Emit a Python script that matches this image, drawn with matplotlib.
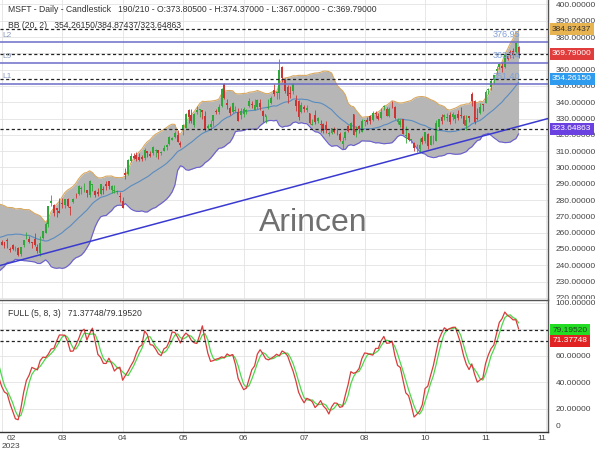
import numpy as np
import pandas as pd
import matplotlib
matplotlib.use("Agg")
import matplotlib.pyplot as plt
from matplotlib.ticker import FuncFormatter
from matplotlib.transforms import Bbox, TransformedBbox

plt.rcParams['font.family'] = ['Liberation Sans', 'DejaVu Sans']

# MSFT daily bars, 20 Jan 2023 -> 17 Nov 2023 (the first 21 bars only feed the indicators)
n_hidden = 21

opens = [
    232.0, 241.1, 242.5, 234.5, 243.7, 248.9, 244.5, 243.5,
    248.0, 258.8, 259.5, 257.4, 260.5, 273.2, 273.8, 261.5, 267.6, 272.7, 268.3, 264.0, 259.4,
    254.5, 254.1, 255.6, 249.9, 252.5, 249.1,
    250.8, 246.6, 252.2, 256.4, 256.3, 254.0, 255.8, 251.1, 247.4, 256.8, 259.9, 265.2, 278.3, 276.9, 274.9, 273.4, 277.9, 277.2, 280.5, 275.8, 278.6, 284.2, 283.7,
    286.5, 287.2, 285.9, 283.2, 289.2, 285.8, 284.8, 283.6, 287.0, 289.9, 291.6, 285.9, 285.3, 285.0, 282.1, 279.5, 296.7, 295.9, 304.0,
    306.9, 307.8, 306.6, 306.2, 305.7, 310.1, 308.0, 308.6, 310.1, 310.6, 309.1, 309.8, 312.3, 314.5, 316.7, 318.6, 320.0, 314.7, 323.2, 324.0, 335.2, 332.3,
    325.9, 334.2, 335.2, 335.3, 331.6, 323.9, 324.9, 328.6, 334.5, 334.3, 337.5, 351.3, 339.3, 336.5, 334.1, 334.4, 333.7, 331.9, 332.7, 334.7, 337.8,
    339.2, 335.1, 337.3, 339.3, 334.6, 331.1, 336.6, 339.6, 347.6, 345.7, 345.8, 361.8, 353.6, 349.2, 345.9, 347.1, 341.4, 340.5, 333.7, 336.9,
    335.2, 333.6, 326.0, 331.9, 328.4, 326.9, 326.5, 326.0, 320.3, 321.4, 323.0, 320.8, 320.5, 314.5, 317.9, 325.5, 323.8, 332.9, 321.5, 325.7, 321.9, 328.7, 329.2,
    331.3, 329.0, 333.4, 331.3, 330.1, 337.2, 335.8, 331.3, 339.2, 336.9, 327.8, 326.2, 329.5, 319.3, 321.3, 316.6, 315.1, 312.3, 311.0, 317.8,
    316.3, 320.8, 314.0, 319.1, 316.5, 324.8, 331.0, 331.2, 330.6, 332.4, 331.1, 329.6, 332.5, 332.0, 331.7, 325.5, 331.3, 345.0, 340.5, 330.4, 333.4, 338.9,
    339.8, 347.2, 349.6, 353.5, 359.4, 361.7, 362.3, 361.5, 368.2, 371.0, 371.3, 371.0, 373.805,
]
highs = [
    240.5, 245.2, 243.9, 243.3, 248.3, 249.8, 245.6, 247.9,
    255.2, 264.7, 264.2, 258.3, 268.8, 276.8, 273.9, 264.1, 274.6, 274.9, 270.7, 266.7, 260.1,
    255.5, 254.3, 256.8, 251.0, 252.8, 251.5,
    250.9, 251.4, 255.6, 260.1, 257.7, 254.5, 259.6, 252.8, 257.9, 261.1, 266.5, 276.6, 283.3, 277.5, 275.0, 281.0, 281.1, 280.6, 281.5, 276.1, 281.1, 284.5, 289.0,
    288.3, 290.5, 286.2, 292.1, 289.6, 285.9, 287.2, 289.9, 288.5, 291.6, 291.8, 289.1, 289.0, 286.2, 284.9, 281.6, 299.6, 305.2, 308.9,
    308.6, 309.2, 308.6, 307.8, 311.9, 310.2, 310.0, 313.0, 311.1, 310.7, 309.9, 313.7, 314.4, 319.0, 318.8, 322.6, 322.7, 316.5, 326.9, 333.4, 335.7, 335.9,
    333.5, 337.5, 335.9, 335.4, 334.5, 326.6, 329.0, 332.1, 336.0, 339.0, 349.0, 351.5, 342.1, 337.7, 340.1, 337.5, 336.2, 336.2, 337.0, 336.1, 342.7,
    340.9, 341.7, 342.0, 341.8, 335.2, 332.4, 341.7, 343.7, 351.4, 346.9, 366.8, 362.5, 355.0, 350.3, 349.8, 351.9, 344.7, 341.3, 340.0, 338.5,
    338.5, 333.6, 329.9, 335.1, 331.1, 328.8, 327.1, 328.3, 322.4, 324.3, 325.0, 324.4, 321.9, 318.4, 322.4, 326.1, 328.0, 332.9, 325.4, 326.1, 329.8, 328.8, 330.9,
    332.0, 334.9, 334.5, 333.1, 336.2, 338.4, 336.8, 336.9, 340.9, 337.4, 330.4, 329.4, 329.6, 325.4, 321.4, 317.7, 315.9, 314.3, 318.0, 319.5,
    322.0, 321.4, 320.0, 320.0, 329.2, 330.0, 332.8, 332.8, 333.6, 333.8, 333.8, 333.0, 335.5, 336.9, 331.9, 332.0, 331.8, 346.2, 341.6, 336.7, 339.4, 339.0,
    347.4, 348.8, 354.4, 357.0, 362.5, 363.9, 364.8, 370.1, 368.5, 372.0, 373.1, 376.4, 374.37,
]
lows = [
    230.6, 239.0, 240.4, 230.9, 242.0, 246.8, 242.2, 242.9,
    245.5, 257.3, 257.1, 254.8, 260.1, 266.2, 261.9, 260.7, 264.7, 269.1, 266.5, 261.9, 256.9,
    252.3, 250.3, 250.5, 248.1, 249.4, 248.7,
    245.8, 245.6, 251.4, 255.9, 253.4, 250.8, 251.6, 247.6, 245.5, 255.9, 259.5, 263.3, 276.3, 269.9, 269.5, 272.2, 275.2, 275.3, 275.5, 270.9, 278.4, 281.5, 283.2,
    283.9, 285.2, 281.9, 282.0, 285.7, 281.6, 282.6, 283.2, 283.7, 286.2, 287.0, 284.5, 284.5, 283.4, 278.7, 275.4, 292.8, 295.3, 303.3,
    305.2, 303.9, 304.1, 303.9, 304.3, 306.1, 306.1, 307.7, 306.3, 305.3, 307.6, 309.8, 310.7, 313.7, 316.6, 318.0, 315.3, 312.6, 320.0, 323.9, 327.3, 327.3,
    324.7, 332.6, 330.7, 330.0, 322.5, 323.3, 322.9, 325.2, 332.6, 333.0, 337.2, 341.9, 335.9, 332.1, 333.3, 333.8, 328.3, 329.8, 330.9, 332.6, 337.2,
    336.6, 335.0, 335.9, 335.3, 327.6, 327.5, 335.7, 339.0, 344.0, 342.2, 342.2, 352.4, 345.7, 339.8, 342.5, 345.1, 334.5, 329.1, 333.6, 333.7,
    333.7, 326.4, 325.9, 326.6, 327.5, 321.9, 321.1, 321.2, 319.2, 320.3, 321.1, 320.1, 316.1, 311.6, 317.0, 321.5, 323.0, 319.8, 318.8, 321.4, 321.7, 325.2, 326.8,
    326.8, 328.7, 330.2, 329.0, 329.5, 335.0, 331.5, 331.2, 336.6, 329.7, 326.4, 324.5, 320.5, 315.0, 316.0, 315.0, 310.0, 309.5, 308.9, 314.3,
    315.0, 311.2, 314.0, 314.6, 316.3, 323.2, 326.4, 329.1, 328.6, 326.4, 328.9, 327.0, 329.3, 330.4, 326.0, 322.9, 327.6, 337.6, 326.9, 328.9, 332.5, 334.7,
    339.7, 344.8, 347.3, 351.4, 357.6, 360.6, 358.6, 361.1, 365.9, 367.4, 367.0, 370.2, 367.0,
]
closes = [
    240.2, 242.6, 242.0, 240.6, 248.0, 248.2, 242.7, 247.8,
    252.8, 264.6, 258.4, 256.8, 267.6, 266.7, 263.6, 263.1, 271.3, 272.2, 269.3, 262.2, 258.1,
    252.7, 251.5, 254.8, 249.2, 250.2, 249.4,
    246.3, 251.1, 255.3, 256.9, 254.2, 253.7, 252.3, 248.6, 253.9, 260.8, 265.4, 276.2, 279.4, 272.2, 273.8, 272.3, 277.7, 280.6, 276.4, 275.2, 280.5, 284.1, 288.3,
    287.2, 287.2, 284.3, 291.6, 289.4, 282.8, 283.5, 289.8, 286.1, 288.8, 288.4, 288.5, 286.1, 285.8, 281.8, 275.4, 295.4, 304.8, 307.3,
    305.6, 305.4, 304.4, 305.4, 310.7, 308.7, 307.0, 312.3, 310.1, 309.0, 309.5, 311.7, 314.0, 318.5, 318.3, 321.2, 315.3, 313.9, 325.9, 332.9, 331.2, 328.4,
    332.6, 335.4, 335.9, 333.7, 323.4, 325.3, 326.8, 331.9, 334.3, 337.3, 348.1, 342.3, 338.1, 333.6, 339.7, 335.0, 328.6, 334.6, 335.9, 335.1, 340.5,
    338.0, 338.2, 341.3, 337.2, 331.8, 332.5, 337.2, 342.7, 345.2, 345.7, 359.5, 355.1, 346.9, 343.8, 345.1, 351.0, 337.8, 330.7, 338.4, 335.9,
    336.3, 327.5, 326.7, 327.8, 330.1, 326.1, 322.2, 322.9, 321.0, 324.0, 321.9, 320.4, 316.9, 316.5, 321.9, 322.5, 327.0, 320.0, 323.0, 323.7, 328.4, 328.8, 327.8,
    328.7, 333.6, 332.9, 329.9, 334.3, 337.9, 331.8, 336.1, 338.7, 330.2, 329.1, 328.7, 320.8, 319.5, 317.0, 317.5, 312.1, 312.8, 313.6, 315.8,
    321.8, 313.4, 319.0, 319.4, 327.3, 329.8, 328.4, 332.4, 331.2, 327.7, 332.6, 332.1, 330.1, 331.3, 326.7, 329.3, 330.5, 340.7, 327.9, 329.8, 337.3, 338.1,
    346.1, 348.3, 352.8, 356.5, 360.5, 363.2, 360.7, 369.7, 366.7, 370.3, 369.7, 376.2, 369.79,
]

# x axis: one tick every 22 bars, labelled with the month
tick_bars = [0, 22, 44, 66, 88, 110, 132, 154, 176, 198]
tick_labels = ["02\n2023", "03", "04", "05", "06", "07", "08", "10", "11", "11"]

# levels drawn on the chart
levels = {"L2": 376.95, "L9": 363.94, "L1": 351.40}
bb_now = [354.26150, 384.87437, 323.64863]   # mid / upper / lower
last_close = 369.79
stoch_now = [71.37748, 79.19520]             # %K / %D
trend_bars = [10, 151]
trend_prices = [244.6, 308.4]

# indicators: BB(20, 2) and full stochastic (5, 8, 3)
c_s = pd.Series(closes)
bb_mid = c_s.rolling(20).mean()
bb_sd = c_s.rolling(20).std(ddof=0)
bb_up = bb_mid + 2 * bb_sd
bb_lo = bb_mid - 2 * bb_sd

hh = pd.Series(highs).rolling(5).max()
ll = pd.Series(lows).rolling(5).min()
fast_k = 100 * (c_s - ll) / (hh - ll)
full_k = fast_k.rolling(8).mean()
full_d = full_k.rolling(3).mean()

x = np.arange(len(closes)) - n_hidden
o = np.array(opens); h = np.array(highs); l = np.array(lows); c = np.array(closes)

fig = plt.figure(figsize=(6, 4.5), dpi=100)
ax1 = fig.add_axes([0, 0.3356, 0.9133, 0.6644])
ax2 = fig.add_axes([0, 0.04, 0.9133, 0.2933])
xlim = (-0.6, 198.7)


def fmt_hiding(hidden):
    # labels that sit under a value tag are not shown on the reference
    return FuncFormatter(lambda v, pos: "" if round(v) in hidden else f"{v:.5f}")


grid_kw = dict(color='#e3e3e3', lw=0.6)
for ax in (ax1, ax2):
    ax.set_xlim(*xlim)
    ax.set_xticks(tick_bars)
    ax.yaxis.tick_right()
    ax.tick_params(axis='y', length=0, pad=5.5, labelsize=6, labelcolor='#444')
    ax.tick_params(axis='x', length=0, pad=2, labelsize=6, labelcolor='#444')
    ax.grid(True, **grid_kw)
    ax.set_axisbelow(True)
    ax.spines['left'].set_visible(False)
    for s in ('right', 'bottom', 'top'):
        ax.spines[s].set_color('#555')
        ax.spines[s].set_linewidth(1.0)

# ---- upper panel: candles + bollinger
ax1.set_ylim(219.3, 402.7)
ax1.set_yticks(np.arange(220, 401, 10))
ax1.yaxis.set_major_formatter(fmt_hiding({370}))
ax1.spines['top'].set_visible(False)
ax1.spines['bottom'].set_visible(False)
ax1.tick_params(axis='x', labelbottom=False)
clip = TransformedBbox(Bbox([[0, 0.3356], [1, 1]]), fig.transFigure)
for t in ax1.get_yticklabels():
    t.set_clip_box(clip)
    t.set_clip_on(True)

ax1.fill_between(x, bb_lo, bb_up, color='#b6b6b6', lw=0, zorder=1)
ax1.plot(x, bb_up, color='#d9a860', lw=0.8, zorder=2)
ax1.plot(x, bb_lo, color='#6a60d0', lw=0.8, zorder=2)
ax1.plot(x, bb_mid, color='#5a8cc0', lw=0.8, zorder=2)

up = c >= o
col = np.where(up, '#2fa83a', '#cc3333')
ax1.vlines(x, l, h, colors=col, lw=0.6, zorder=3)
ax1.bar(x, np.maximum(np.abs(c - o), 0.4), bottom=np.minimum(o, c), width=0.65,
        color=col, lw=0, zorder=4)

ax1.axline((trend_bars[0], trend_prices[0]), (trend_bars[1], trend_prices[1]),
           color='#3a3ad0', lw=1.1, zorder=5)

for name, val in levels.items():
    ax1.axhline(val, color='#6c6cc8', lw=1.1, zorder=5)
    ax1.annotate(name, xy=(0, val), xycoords=('axes fraction', 'data'),
                 xytext=(2, 2.5), textcoords='offset points', ha='left', va='bottom',
                 fontsize=6, color='#8a9ac0', zorder=6)
    ax1.annotate(f"{val:.2f}", xy=(x[-1] + 0.5, val), xytext=(0, 2), textcoords='offset points',
                 ha='right', va='bottom', fontsize=6.5, color='#7f9fd8', zorder=6)

dash = (0, (2.5, 2))
for val in bb_now + [last_close]:
    ax1.axhline(val, color='#222', lw=0.9, ls=dash, zorder=5)


def tag(ax, val, fc, tc):
    ax.annotate(f"{val:.5f}", xy=(1, val), xycoords=('axes fraction', 'data'),
                xytext=(3, 0), textcoords='offset points', ha='left', va='center',
                fontsize=6, color=tc, annotation_clip=False, zorder=10,
                bbox=dict(boxstyle='square,pad=0.3', fc=fc, ec='none'))


tag(ax1, bb_now[1], '#e8b452', '#333')
tag(ax1, last_close, '#e03c3c', 'white')
tag(ax1, bb_now[0], '#2f9bef', 'white')
tag(ax1, bb_now[2], '#6a40e0', 'white')

# ---- lower panel: full stochastic
ax2.set_ylim(2.6, 102)
ax2.set_yticks([20, 40, 60, 80, 100])
ax2.yaxis.set_major_formatter(fmt_hiding({80}))
ax2.spines['bottom'].set_color('#333')
ax2.set_xticklabels(tick_labels)
lbls = ax2.get_xticklabels()
lbls[0].set_ha('left')
lbls[0].set_multialignment('center')
lbls[-1].set_ha('right')

ax2.plot(x, full_d, color='#4cd84c', lw=0.9, zorder=3)
ax2.plot(x, full_k, color='#d83c3c', lw=0.9, zorder=4)
for val in stoch_now:
    ax2.axhline(val, color='#222', lw=0.9, ls=dash, zorder=5)
tag(ax2, stoch_now[1], '#22dd22', '#224422')
tag(ax2, stoch_now[0], '#e02222', 'white')

# texts
fig.text(8 / 600, 1 - 10 / 450,
         "MSFT - Daily - Candlestick   190/210 - O:373.80500 - H:374.37000 - L:367.00000 - C:369.79000",
         fontsize=6.2, color='#333', va='center')
fig.text(8 / 600, 1 - 25 / 450, "BB (20, 2)   354.26150/384.87437/323.64863",
         fontsize=6.2, color='#333', va='center')
fig.text(8 / 600, 1 - 313 / 450, "FULL (5, 8, 3)   71.37748/79.19520",
         fontsize=6.2, color='#333', va='center')
fig.text(556 / 600, 1 - 426 / 450, "0", fontsize=6, color='#444', va='center')
fig.text(313 / 600, 1 - 223 / 450, "Arincen", fontsize=23, color='#707070',
         ha='center', va='center')

fig.savefig("out.png", dpi=100)
